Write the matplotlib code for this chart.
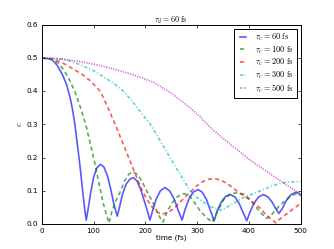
import numpy as np
import matplotlib
matplotlib.use('Agg')
import matplotlib.pyplot as plt

# values, time in fs
t_60 = [0, 10, 20, 30, 40, 48, 55, 60, 64, 68, 72, 76, 79, 83, 86, 89, 94, 100, 106, 113, 120,
        127, 134, 140, 146, 150, 156, 163, 170, 177, 184, 191, 198, 204, 209, 214, 221, 229,
        238, 247, 256, 264, 271, 277, 285, 293, 302, 310, 318, 326, 333, 339, 347, 355, 364,
        373, 381, 389, 396, 402, 410, 419, 428, 437, 445, 452, 458, 464, 472, 481, 490, 496, 500]
c_60 = [0.5, 0.499, 0.495, 0.478, 0.45, 0.42, 0.38, 0.34, 0.3, 0.25, 0.2, 0.145, 0.1, 0.045,
        0.012, 0.04, 0.09, 0.14, 0.168, 0.18, 0.172, 0.145, 0.1, 0.055, 0.024, 0.05, 0.09,
        0.12, 0.135, 0.14, 0.13, 0.105, 0.07, 0.04, 0.012, 0.04, 0.075, 0.1, 0.11, 0.1, 0.075,
        0.04, 0.012, 0.045, 0.078, 0.097, 0.104, 0.096, 0.075, 0.04, 0.01, 0.04, 0.067, 0.083,
        0.089, 0.082, 0.063, 0.035, 0.01, 0.035, 0.063, 0.082, 0.089, 0.082, 0.066, 0.047,
        0.032, 0.045, 0.07, 0.088, 0.096, 0.093, 0.087]

t_100 = [0, 15, 25, 35, 45, 55, 65, 75, 85, 95, 103, 111, 118, 124, 130, 135, 143, 151, 160,
         168, 175, 183, 190, 198, 206, 213, 222, 229, 234, 240, 250, 260, 272, 284, 295, 305,
         318, 329, 340, 352, 365, 378, 390, 400, 410, 422, 435, 445, 456, 468, 481, 493, 500]
c_100 = [0.5, 0.499, 0.493, 0.48, 0.458, 0.43, 0.395, 0.35, 0.3, 0.235, 0.18, 0.12, 0.068,
         0.033, 0.003, 0.035, 0.07, 0.095, 0.13, 0.15, 0.157, 0.152, 0.138, 0.115, 0.09, 0.07,
         0.04, 0.018, 0.006, 0.03, 0.06, 0.08, 0.092, 0.088, 0.065, 0.042, 0.02, 0.006, 0.04,
         0.075, 0.092, 0.094, 0.09, 0.078, 0.06, 0.035, 0.017, 0.03, 0.05, 0.068, 0.085, 0.092,
         0.088]

t_200 = [0, 20, 40, 60, 79, 95, 113, 128, 142, 155, 168, 181, 194, 205, 215, 224, 232, 245,
         258, 271, 284, 297, 310, 322, 333, 345, 358, 370, 384, 400, 412, 422, 432, 443, 452,
         460, 470, 485, 500]
c_200 = [0.5, 0.498, 0.486, 0.468, 0.45, 0.43, 0.4, 0.35, 0.3, 0.25, 0.2, 0.15, 0.1, 0.07,
         0.048, 0.035, 0.03, 0.035, 0.052, 0.072, 0.092, 0.112, 0.127, 0.135, 0.137, 0.133,
         0.122, 0.108, 0.092, 0.075, 0.06, 0.048, 0.03, 0.015, 0.004, 0.015, 0.027, 0.045, 0.062]

t_300 = [0, 30, 50, 71, 100, 126, 142, 158, 175, 192, 210, 229, 248, 267, 287, 300, 320, 335,
         345, 355, 364, 390, 422, 445, 464, 480, 500]
c_300 = [0.5, 0.499, 0.494, 0.482, 0.462, 0.437, 0.42, 0.4, 0.37, 0.335, 0.3, 0.25, 0.2, 0.15,
         0.1, 0.08, 0.058, 0.046, 0.042, 0.048, 0.057, 0.08, 0.1, 0.115, 0.124, 0.127, 0.128]

t_500 = [0, 40, 80, 120, 151, 171, 195, 216, 250, 281, 305, 326, 345, 364, 385, 403, 435, 464,
         485, 500]
c_500 = [0.5, 0.497, 0.488, 0.475, 0.462, 0.452, 0.44, 0.427, 0.395, 0.357, 0.325, 0.29, 0.265,
         0.24, 0.215, 0.192, 0.158, 0.127, 0.105, 0.092]

labels = [r'$\tau_c=60\ \mathrm{fs}$', r'$\tau_c=100\ \mathrm{fs}$', r'$\tau_c=200\ \mathrm{fs}$',
          r'$\tau_c=300\ \mathrm{fs}$', r'$\tau_c=500\ \mathrm{fs}$']

plt.style.use('classic')
plt.rcParams['lines.scale_dashes'] = False
plt.rcParams['mathtext.fontset'] = 'cm'

fig = plt.figure(figsize=(3.34, 2.49), dpi=100, facecolor='white')
ax = fig.add_axes([0.125, 0.1, 0.775, 0.8])

a = 0.65
lw = 1.2
ax.plot(t_60, c_60, '-', color='b', lw=lw, alpha=a, label=labels[0])
ax.plot(t_100, c_100, '--', color='g', lw=lw, alpha=a, dashes=(3, 2.2), label=labels[1])
ax.plot(t_200, c_200, '--', color='r', lw=lw, alpha=a, dashes=(3, 2.2), label=labels[2])
ax.plot(t_300, c_300, '-.', color='c', lw=lw, alpha=a, dashes=(2.5, 1.5, 0.8, 1.5), label=labels[3])
ax.plot(t_500, c_500, ':', color='m', lw=lw, alpha=a, dashes=(0.8, 1.0), label=labels[4])

ax.set_xlim(0, 500)
ax.set_ylim(0, 0.6)
ax.set_xticks([0, 100, 200, 300, 400, 500])
ax.set_yticks([0.0, 0.1, 0.2, 0.3, 0.4, 0.5, 0.6])
ax.tick_params(labelsize=5.2, length=2.5, width=0.5, pad=2.5, direction='in', top=True, right=True)
for s in ax.spines.values():
    s.set_linewidth(0.7)

ax.set_xlabel('time (fs)', fontsize=5.2, labelpad=1)
ax.set_ylabel(r'$c$', fontsize=6, labelpad=2)
ax.set_title(r'$\tau_d=60\ \mathrm{fs}$', fontsize=5.8, pad=1.5)

leg = ax.legend(loc='upper right', fontsize=6, handlelength=1.4, handletextpad=0.8,
                labelspacing=0.15, borderpad=0.35, borderaxespad=0.45, frameon=True)
leg.get_frame().set_linewidth(0.7)
leg.get_frame().set_edgecolor('black')

fig.savefig('out.png', dpi=100, facecolor='white')
